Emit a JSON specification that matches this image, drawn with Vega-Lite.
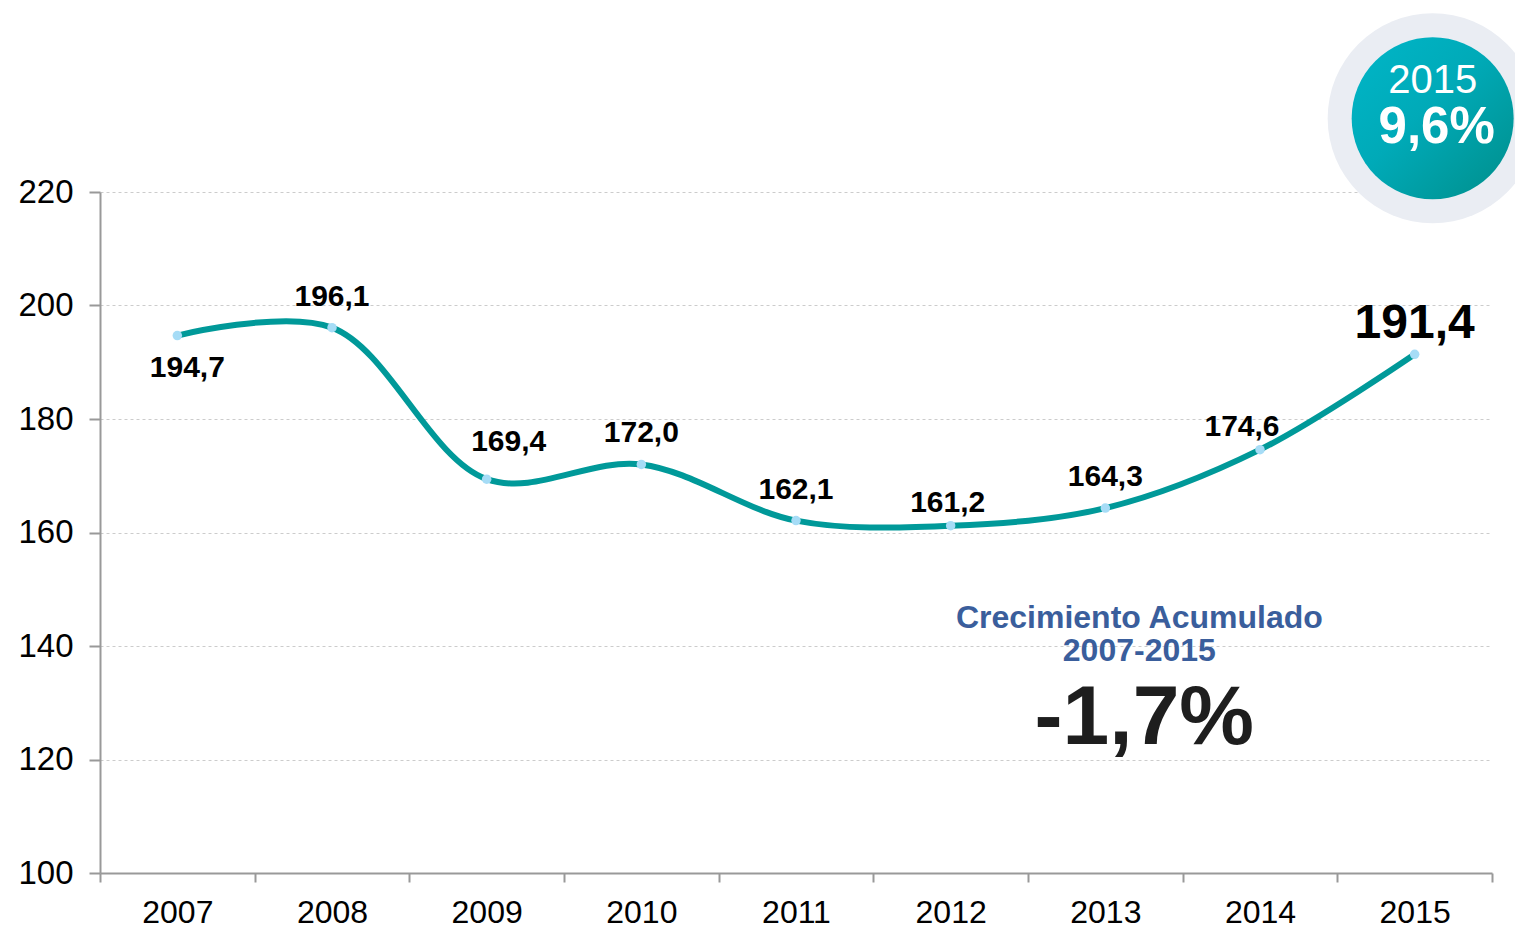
{
  "$schema": "https://vega.github.io/schema/vega-lite/v6.json",
  "width": 1392,
  "height": 681,
  "autosize": "none",
  "padding": {"left": 100, "top": 192, "right": 23, "bottom": 57},
  "background": "white",
  "config": {"view": {"stroke": null}, "font": "Liberation Sans"},
  "datasets": {
    "series": [
      {"year": "2007", "value": 194.7, "label": "194,7"},
      {"year": "2008", "value": 196.1, "label": "196,1"},
      {"year": "2009", "value": 169.4, "label": "169,4"},
      {"year": "2010", "value": 172.0, "label": "172,0"},
      {"year": "2011", "value": 162.1, "label": "162,1"},
      {"year": "2012", "value": 161.2, "label": "161,2"},
      {"year": "2013", "value": 164.3, "label": "164,3"},
      {"year": "2014", "value": 174.6, "label": "174,6"},
      {"year": "2015", "value": 191.4, "label": "191,4"}
    ],
    "badge": [{"year": "2015", "growth": "9,6%"}],
    "note": [{"title": "Crecimiento Acumulado", "period": "2007-2015", "total": "-1,7%"}]
  },
  "layer": [
    {
      "data": {"name": "series"},
      "mark": {"type": "line", "interpolate": "catmull-rom", "color": "#009999", "strokeWidth": 6, "strokeCap": "round"},
      "encoding": {
        "x": {
          "field": "year", "type": "ordinal",
          "scale": {"type": "band", "paddingInner": 0, "paddingOuter": 0},
          "axis": {
            "title": null, "tickBand": "extent", "labelAngle": 0,
            "labelFontSize": 32, "labelColor": "#000000", "labelPadding": 15,
            "domainColor": "#999999", "domainWidth": 2,
            "tickColor": "#999999", "tickWidth": 2, "tickSize": 9, "grid": false
          }
        },
        "y": {
          "field": "value", "type": "quantitative",
          "scale": {"domain": [100, 220], "nice": false, "zero": false},
          "axis": {
            "title": null, "values": [100, 120, 140, 160, 180, 200, 220],
            "labelFontSize": 33, "labelColor": "#000000", "labelPadding": 16,
            "domainColor": "#999999", "domainWidth": 2,
            "tickColor": "#999999", "tickWidth": 2, "tickSize": 11,
            "grid": true, "gridColor": "#cccccc", "gridDash": [3, 3], "gridWidth": 1
          }
        }
      }
    },
    {
      "data": {"name": "series"},
      "mark": {"type": "point", "shape": "circle", "filled": true, "color": "#a6dcf6", "size": 90, "opacity": 1},
      "encoding": {
        "x": {"field": "year", "type": "ordinal"},
        "y": {"field": "value", "type": "quantitative"}
      }
    },
    {
      "data": {"name": "series"},
      "transform": [{"filter": "datum.year == '2008' || datum.year == '2010' || datum.year == '2011' || datum.year == '2013'"}],
      "mark": {"type": "text", "fontSize": 30, "fontWeight": "bold", "color": "#000000", "dy": -31},
      "encoding": {
        "x": {"field": "year", "type": "ordinal"},
        "y": {"field": "value", "type": "quantitative"},
        "text": {"field": "label"}
      }
    },
    {
      "data": {"name": "series"},
      "transform": [{"filter": "datum.year == '2009'"}],
      "mark": {"type": "text", "fontSize": 30, "fontWeight": "bold", "color": "#000000", "dy": -37, "dx": 22},
      "encoding": {
        "x": {"field": "year", "type": "ordinal"},
        "y": {"field": "value", "type": "quantitative"},
        "text": {"field": "label"}
      }
    },
    {
      "data": {"name": "series"},
      "transform": [{"filter": "datum.year == '2012'"}],
      "mark": {"type": "text", "fontSize": 30, "fontWeight": "bold", "color": "#000000", "dy": -23, "dx": -3},
      "encoding": {
        "x": {"field": "year", "type": "ordinal"},
        "y": {"field": "value", "type": "quantitative"},
        "text": {"field": "label"}
      }
    },
    {
      "data": {"name": "series"},
      "transform": [{"filter": "datum.year == '2014'"}],
      "mark": {"type": "text", "fontSize": 30, "fontWeight": "bold", "color": "#000000", "dy": -23, "dx": -18},
      "encoding": {
        "x": {"field": "year", "type": "ordinal"},
        "y": {"field": "value", "type": "quantitative"},
        "text": {"field": "label"}
      }
    },
    {
      "data": {"name": "series"},
      "transform": [{"filter": "datum.year == '2007'"}],
      "mark": {"type": "text", "fontSize": 30, "fontWeight": "bold", "color": "#000000", "dy": 32, "dx": 10},
      "encoding": {
        "x": {"field": "year", "type": "ordinal"},
        "y": {"field": "value", "type": "quantitative"},
        "text": {"field": "label"}
      }
    },
    {
      "data": {"name": "series"},
      "transform": [{"filter": "datum.year == '2015'"}],
      "mark": {"type": "text", "fontSize": 48, "fontWeight": "bold", "color": "#000000", "dy": -30},
      "encoding": {
        "x": {"field": "year", "type": "ordinal"},
        "y": {"field": "value", "type": "quantitative"},
        "text": {"field": "label"}
      }
    },
    {
      "data": {"name": "badge"},
      "mark": {"type": "point", "shape": "circle", "filled": true, "color": "#eaedf3", "opacity": 1, "size": 44100, "xOffset": 18},
      "encoding": {
        "x": {"field": "year", "type": "ordinal"},
        "y": {"datum": 233}
      }
    },
    {
      "data": {"name": "badge"},
      "mark": {
        "type": "point", "shape": "circle", "filled": true, "opacity": 1, "size": 26244, "xOffset": 18,
        "color": {
          "gradient": "linear", "x1": 0, "y1": 0, "x2": 1, "y2": 1,
          "stops": [{"offset": 0, "color": "#00b6c8"}, {"offset": 0.45, "color": "#00aab8"}, {"offset": 1, "color": "#008e8a"}]
        }
      },
      "encoding": {
        "x": {"field": "year", "type": "ordinal"},
        "y": {"datum": 233}
      }
    },
    {
      "data": {"name": "badge"},
      "mark": {"type": "text", "fontSize": 40, "color": "#ffffff", "xOffset": 18},
      "encoding": {
        "x": {"field": "year", "type": "ordinal"},
        "y": {"datum": 239.6},
        "text": {"field": "year"}
      }
    },
    {
      "data": {"name": "badge"},
      "mark": {"type": "text", "fontSize": 51, "fontWeight": "bold", "color": "#ffffff", "xOffset": 22},
      "encoding": {
        "x": {"field": "year", "type": "ordinal"},
        "y": {"datum": 231.3},
        "text": {"field": "growth"}
      }
    },
    {
      "data": {"name": "note"},
      "mark": {"type": "text", "fontSize": 32, "fontWeight": "bold", "color": "#3a5e9c", "xOffset": 34},
      "encoding": {
        "x": {"datum": "2013", "type": "ordinal"},
        "y": {"datum": 145.0},
        "text": {"field": "title"}
      }
    },
    {
      "data": {"name": "note"},
      "mark": {"type": "text", "fontSize": 32, "fontWeight": "bold", "color": "#3a5e9c", "xOffset": 34},
      "encoding": {
        "x": {"datum": "2013", "type": "ordinal"},
        "y": {"datum": 139.2},
        "text": {"field": "period"}
      }
    },
    {
      "data": {"name": "note"},
      "mark": {"type": "text", "fontSize": 84, "fontWeight": "bold", "color": "#1e1e1e", "xOffset": 39},
      "encoding": {
        "x": {"datum": "2013", "type": "ordinal"},
        "y": {"datum": 127.2},
        "text": {"field": "total"}
      }
    }
  ]
}
